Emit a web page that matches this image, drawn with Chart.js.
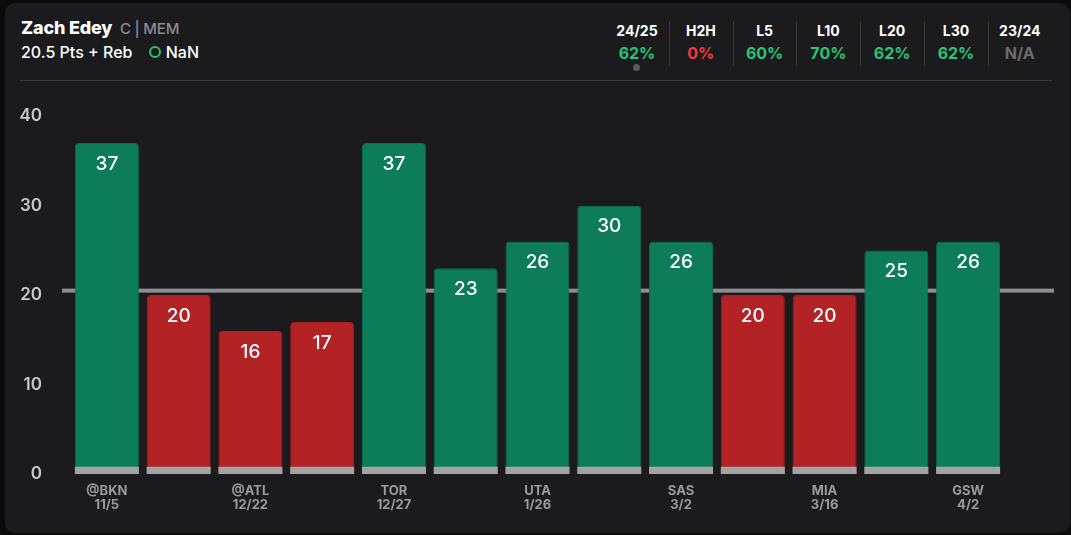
<!DOCTYPE html>
<html><head><meta charset="utf-8">
<script src="https://cdn.jsdelivr.net/npm/chart.js@4/dist/chart.umd.min.js"></script>
<style>
html,body{margin:0;padding:0;background:#0b0b0c;width:1071px;height:535px;overflow:hidden;font-family:Inter,"DejaVu Sans",sans-serif;}
#card{position:absolute;left:5px;top:3px;width:1065px;height:530px;background:#1b1b1d;border-radius:10px;}
#name{position:absolute;left:16px;top:14px;color:#fff;font-weight:800;font-size:18px;letter-spacing:-0.2px;}
#name span{color:#8b8b90;font-weight:500;font-size:15px;margin-left:4px;}
#line{position:absolute;left:16px;top:39px;color:#fff;font-weight:500;font-size:16px;}
#ring{display:inline-block;width:8px;height:8px;border:2.5px solid #27c47a;border-radius:50%;margin-left:12px;margin-right:5px;vertical-align:0px;}
#sep{position:absolute;left:15px;top:77px;width:1032px;height:1px;background:#38383b;}
.col{position:absolute;top:19px;width:64px;text-align:center;}
.col .h{color:#fff;font-weight:700;font-size:14px;}
.col .v{font-weight:700;font-size:16px;margin-top:4px;}
.div{position:absolute;top:18px;width:1px;height:45px;background:#3a3a3d;}
#dot{position:absolute;left:628px;top:61px;width:7px;height:7px;border-radius:50%;background:#5a5a5e;}
canvas{position:absolute;left:0;top:82px;}
</style></head><body>
<div id="card">
<div id="name">Zach Edey <span>C | MEM</span></div>
<div id="line">20.5 Pts + Reb <span id="ring"></span>NaN</div>
<div id="stats"></div>
<div id="dot"></div>
<div id="sep"></div>
<canvas id="c" width="1065" height="448"></canvas>
</div>
<script>
const statLabels = ["24/25","H2H","L5","L10","L20","L30","23/24"];
const statValues = ["62%","0%","60%","70%","62%","62%","N/A"];
const statColors = ["#27c47a","#ef3b3b","#27c47a","#27c47a","#27c47a","#27c47a","#6b6b70"];

const opponents = ["@BKN","","@ATL","","TOR","","UTA","","SAS","","MIA","","GSW"];
const dates = ["11/5","","12/22","","12/27","","1/26","","3/2","","3/16","","4/2"];
const values = [37,20,16,17,37,23,26,30,26,20,20,25,26];
const line = 20.5;
const baseStrip = 0.8;

const stats = document.getElementById('stats');
statLabels.forEach((l,i)=>{
  const d=document.createElement('div');d.className='col';d.style.left=(600+i*63.8)+'px';
  d.innerHTML='<div class="h">'+l+'</div><div class="v" style="color:'+statColors[i]+'">'+statValues[i]+'</div>';
  stats.appendChild(d);
  if(i>0){const s=document.createElement('div');s.className='div';s.style.left=(600+i*63.8)+'px';stats.appendChild(s);}
});

const labels = opponents.map((o,i)=> o ? [o,dates[i]] : "");
const barColors = values.map(v=> v>line ? "#0d7c5a" : "#b32325");
const borderColors = values.map(v=> v>line ? "#0b7152" : "#a82022");

const linePlugin = {
  id:'line',
  beforeDatasetsDraw(chart){
    const {ctx, chartArea, scales:{y}} = chart;
    const py = y.getPixelForValue(line);
    ctx.save();ctx.fillStyle='#8e8e90';
    ctx.fillRect(chartArea.left-9, py-2, chartArea.right-chartArea.left+59, 4);
    ctx.restore();
  }
};
const valuePlugin = {
  id:'vals',
  afterDatasetsDraw(chart){
    const {ctx} = chart;
    const meta = chart.getDatasetMeta(1);
    ctx.save();ctx.fillStyle='#fff';ctx.font='500 19px Inter';ctx.textAlign='center';ctx.textBaseline='middle';
    meta.data.forEach((b,i)=>{ ctx.fillText(String(values[i]), b.x, b.y+21); });
    ctx.restore();
  }
};

new Chart(document.getElementById('c'),{
  type:'bar',
  data:{labels, datasets:[
    {data: values.map(()=>baseStrip), backgroundColor:'#a3a3a5', borderWidth:0, borderSkipped:false, barPercentage:0.892, categoryPercentage:1},
    {data: values, backgroundColor:barColors, borderColor:borderColors, borderWidth:{top:1,left:1,right:1,bottom:0}, borderRadius:{topLeft:4,topRight:4}, borderSkipped:'bottom', barPercentage:0.892, categoryPercentage:1}
  ]},
  options:{
    responsive:false, animation:false,
    layout:{padding:{top:28,right:66,left:0,bottom:0}},
    plugins:{legend:{display:false},tooltip:{enabled:false}},
    scales:{
      x:{stacked:true, grid:{display:false}, border:{display:false},
        ticks:{color:'#9a9aa0',font:{family:'Inter',weight:'700',size:13,lineHeight:1.1},padding:2,maxRotation:0,autoSkip:false},
        afterFit(s){s.height=59;}},
      y:{stacked:false, min:0,max:40, grid:{display:false}, border:{display:false},
        ticks:{stepSize:10,color:'#c8c8cc',font:{family:'Inter',weight:'600',size:17},padding:21},
        afterFit(s){s.width=66;}}
    }
  },
  plugins:[linePlugin,valuePlugin]
});
</script>
</body></html>
